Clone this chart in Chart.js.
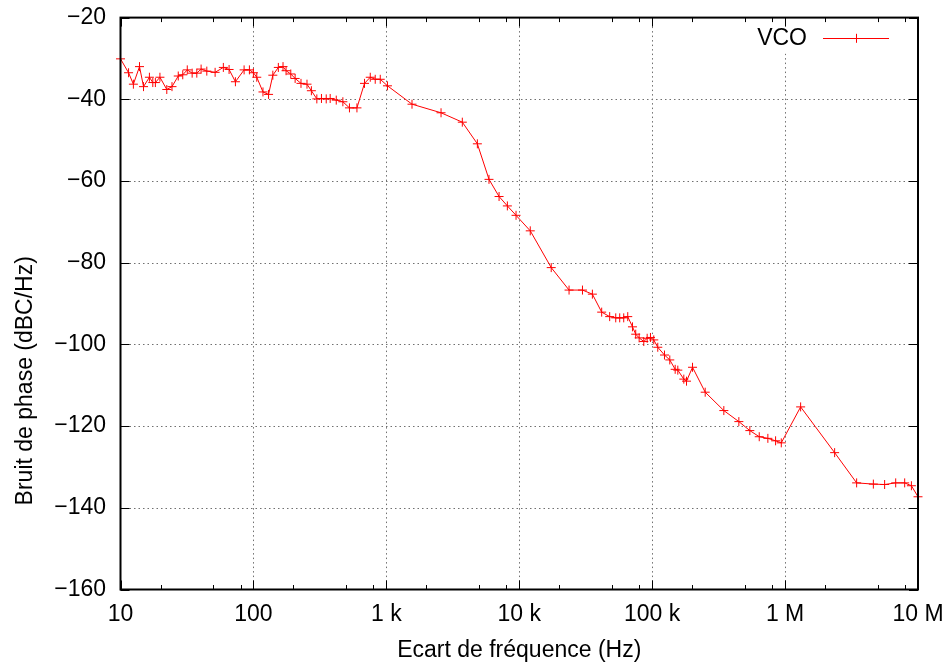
<!DOCTYPE html>
<html lang="fr">
<head>
    <meta charset="UTF-8">
    <title>Bruit de phase du VCO</title>
    <script src="https://cdn.jsdelivr.net/npm/chart.js"></script>
    <style>
        html, body { margin: 0; padding: 0; background: #fff; }
        canvas { display: block; }
    </style>
</head>
<body>
    <canvas id="myChart" width="948" height="666"></canvas>

    <script>
        const freqs = [
            10, 11.5, 12.5, 13.9, 14.9, 16.5, 17.5, 18.3, 19.8, 22.3,
            24.4, 27.2, 29.4, 31.8, 34.6, 37.5, 40.4, 44.6, 51.5, 59.4, 65.6,
            73.2, 85.1, 93.3, 100, 106, 118, 130, 140, 154, 167,
            176, 191, 206, 228, 253, 273, 300, 325, 353, 378,
            420, 471, 528, 601, 685, 757, 825, 900, 1020, 1560,
            2580, 3730, 4840, 5920, 7050, 8140, 9460, 12100, 17400, 23700,
            29900, 35500, 41700, 47900, 53200, 57000, 61100, 65500, 71100, 75200,
            79800, 86500, 91700, 97100, 102800, 110200, 123800, 135700, 149000, 155900,
            173000, 181300, 201200, 250600, 346100, 448900, 543000, 639200, 742100, 848200,
            936300, 1309000, 2359000, 3454000, 4614000, 5610000, 6795000, 7940000, 8920000, 10000000
        ];
        const noise = [
            -30.1, -33.5, -36.3, -32.0, -36.9, -34.6, -35.9, -35.9, -34.6, -37.6,
            -36.9, -34.3, -34.0, -32.8, -33.6, -33.6, -32.6, -33.1, -33.4, -32.2, -32.7,
            -35.7, -32.8, -32.8, -33.5, -34.6, -38.2, -38.8, -34.1, -32.2, -32.0,
            -33.0, -33.8, -34.9, -36.1, -36.3, -37.9, -39.9, -39.8, -39.9, -39.8,
            -40.2, -40.6, -42.1, -42.1, -36.1, -34.6, -35.1, -35.1, -36.7, -41.2,
            -43.3, -45.6, -50.9, -59.6, -63.8, -66.1, -68.4, -72.2, -81.2, -86.7,
            -86.7, -87.7, -92.1, -93.2, -93.5, -93.5, -93.5, -93.2, -95.7, -97.5,
            -98.4, -99.3, -98.5, -98.3, -98.9, -100.7, -102.6, -103.8, -106.1, -106.3,
            -108.5, -109.0, -105.6, -111.7, -116.2, -118.9, -121.1, -122.6, -123.0, -123.6,
            -124.1, -115.3, -126.5, -133.9, -134.2, -134.3, -133.9, -133.9, -134.6, -137.3
        ];
        const seriesName = 'VCO';

        // Axis ticks and titles
        const xTicks = [10, 100, 1e3, 1e4, 1e5, 1e6, 1e7];
        const xTickLabels = ['10', '100', '1 k', '10 k', '100 k', '1 M', '10 M'];
        const xMinor = [2, 5, 8];
        const yTicks = [-20, -40, -60, -80, -100, -120, -140, -160];
        const xTitle = 'Ecart de fréquence (Hz)';
        const yTitle = 'Bruit de phase (dBC/Hz)';

        const FONT = '"Liberation Sans", Arial, Helvetica, sans-serif';
        const RED = '#ff0000';

        const px = v => Math.round(v) + 0.5;

        // gnuplot-like frame: dotted grid, inward ticks on all sides, key top right
        const gnuplotFrame = {
            id: 'gnuplotFrame',
            beforeDatasetsDraw(chart) {
                const { ctx, chartArea: a, scales: { x, y } } = chart;
                ctx.save();
                ctx.strokeStyle = '#707070';
                ctx.lineWidth = 1;
                ctx.setLineDash([1.5, 3]);
                ctx.beginPath();
                xTicks.slice(1, -1).forEach(v => {
                    const X = px(x.getPixelForValue(v));
                    ctx.moveTo(X, a.top); ctx.lineTo(X, a.bottom);
                });
                yTicks.slice(1, -1).forEach(v => {
                    const Y = px(y.getPixelForValue(v));
                    ctx.moveTo(a.left, Y); ctx.lineTo(a.right, Y);
                });
                ctx.stroke();
                ctx.restore();

                // key area is opaque over the grid
                ctx.save();
                ctx.fillStyle = '#fff';
                ctx.fillRect(a.right - 168, a.top + 6, 62, 30);
                ctx.restore();
            },
            afterDatasetsDraw(chart) {
                const { ctx, chartArea: a, scales: { x, y } } = chart;
                ctx.save();
                ctx.strokeStyle = '#000';
                ctx.lineWidth = 1;
                ctx.beginPath();
                // x major + minor ticks, bottom and top
                xTicks.forEach((v, i) => {
                    const X = px(x.getPixelForValue(v));
                    ctx.moveTo(X, a.bottom); ctx.lineTo(X, a.bottom - 9);
                    ctx.moveTo(X, a.top); ctx.lineTo(X, a.top + 9);
                    if (i < xTicks.length - 1) {
                        xMinor.forEach(m => {
                            const Xm = px(x.getPixelForValue(v * m));
                            ctx.moveTo(Xm, a.bottom); ctx.lineTo(Xm, a.bottom - 4.5);
                            ctx.moveTo(Xm, a.top); ctx.lineTo(Xm, a.top + 4.5);
                        });
                    }
                });
                // y ticks, left and right
                yTicks.forEach(v => {
                    const Y = px(y.getPixelForValue(v));
                    ctx.moveTo(a.left, Y); ctx.lineTo(a.left + 9, Y);
                    ctx.moveTo(a.right, Y); ctx.lineTo(a.right - 9, Y);
                });
                ctx.stroke();

                // border
                ctx.lineWidth = 2;
                ctx.strokeRect(a.left, a.top, a.right - a.left, a.bottom - a.top);

                // key
                const ds = chart.data.datasets[0];
                const ky = a.top + 20.7;
                const kx = a.right - 95;
                ctx.font = '23px ' + FONT;
                ctx.fillStyle = '#000';
                ctx.textAlign = 'right';
                ctx.textBaseline = 'middle';
                ctx.fillText(ds.label, kx - 16, ky);
                ctx.strokeStyle = ds.borderColor;
                ctx.lineWidth = 1;
                ctx.beginPath();
                ctx.moveTo(kx, px(ky)); ctx.lineTo(kx + 66, px(ky));
                ctx.moveTo(kx + 33.5, ky - 4.5); ctx.lineTo(kx + 33.5, ky + 4.5);
                ctx.stroke();

                // y title, gnuplot puts it a bit below the middle of the axis
                ctx.translate(25.5, a.top + (a.bottom - a.top) * 0.635);
                ctx.rotate(-Math.PI / 2);
                ctx.textAlign = 'center';
                ctx.fillStyle = '#000';
                ctx.fillText(yTitle, 0, 0);
                ctx.restore();
            }
        };

        const points = freqs.map((f, i) => ({ x: f, y: noise[i] }));

        const ctx = document.getElementById('myChart').getContext('2d');
        new Chart(ctx, {
            type: 'line',
            data: {
                datasets: [{
                    label: seriesName,
                    data: points,
                    borderColor: RED,
                    backgroundColor: RED,
                    borderWidth: 1,
                    tension: 0,
                    pointStyle: 'cross',
                    pointRadius: 4.5,
                    pointBorderWidth: 1,
                    pointBorderColor: RED,
                    clip: false
                }]
            },
            options: {
                responsive: false,
                animation: false,
                devicePixelRatio: 1,
                layout: { padding: { top: 17.6, right: 30, left: 0, bottom: 0 } },
                plugins: {
                    legend: { display: false },
                    tooltip: { enabled: false }
                },
                scales: {
                    x: {
                        type: 'logarithmic',
                        min: 10,
                        max: 1e7,
                        afterBuildTicks: s => { s.ticks = xTicks.map(v => ({ value: v })); },
                        afterFit: s => {
                            s.height = 76.5;
                            s.paddingLeft = 0;
                            s.paddingRight = 0;
                        },
                        grid: { display: false, drawTicks: false },
                        border: { display: false },
                        ticks: {
                            autoSkip: false,
                            maxRotation: 0,
                            padding: 11,
                            color: '#000',
                            font: { family: FONT, size: 23 },
                            callback: (v, i) => xTickLabels[i]
                        },
                        title: {
                            display: true,
                            text: xTitle,
                            color: '#000',
                            font: { family: FONT, size: 23 },
                            padding: { top: 0, bottom: 2 }
                        }
                    },
                    y: {
                        type: 'linear',
                        min: -160,
                        max: -20,
                        afterBuildTicks: s => { s.ticks = yTicks.map(v => ({ value: v })); },
                        afterFit: s => {
                            s.width = 120.5;
                            s.paddingTop = 0;
                            s.paddingBottom = 0;
                        },
                        grid: { display: false, drawTicks: false },
                        border: { display: false },
                        ticks: {
                            padding: 14.5,
                            color: '#000',
                            font: { family: FONT, size: 23 },
                            callback: v => (v < 0 ? '\u2212' + Math.abs(v) : String(v))
                        },
                        title: { display: false }
                    }
                }
            },
            plugins: [gnuplotFrame]
        });
    </script>
</body>
</html>
